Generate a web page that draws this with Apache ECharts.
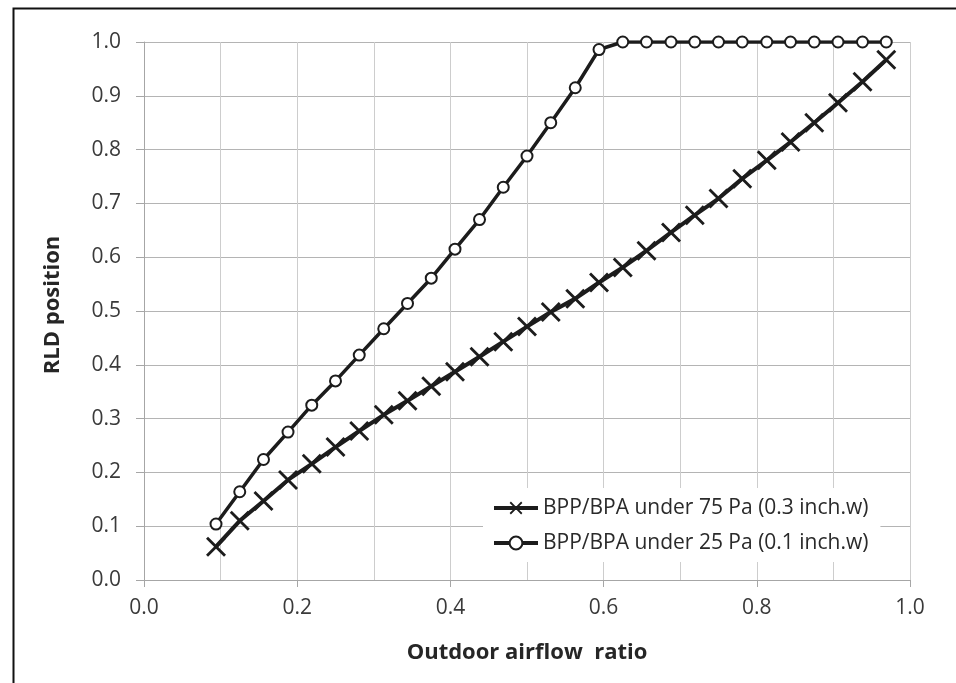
<!DOCTYPE html>
<html>
<head>
<meta charset="utf-8">
<script src="https://cdn.jsdelivr.net/npm/echarts@6/dist/echarts.min.js"></script>
<style>
  html, body { margin: 0; padding: 0; background: #fff; }
  #chart { width: 956px; height: 683px; }
</style>
</head>
<body>
<div id="chart"></div>
<script>
// Outdoor airflow ratio (x) shared by both damper curves
const airflowRatio = [0.094, 0.125, 0.156, 0.188, 0.219, 0.250, 0.281, 0.313, 0.344, 0.375,
  0.406, 0.438, 0.469, 0.500, 0.531, 0.563, 0.594, 0.625, 0.656, 0.688,
  0.719, 0.750, 0.781, 0.813, 0.844, 0.875, 0.906, 0.938, 0.969];

// RLD position at 75 Pa (0.3 inch.w)
const rld75Pa = [0.062, 0.110, 0.147, 0.186, 0.216, 0.247, 0.277, 0.307, 0.333, 0.360,
  0.387, 0.415, 0.443, 0.471, 0.498, 0.523, 0.553, 0.581, 0.612, 0.646,
  0.678, 0.709, 0.746, 0.780, 0.814, 0.850, 0.887, 0.926, 0.967];

// RLD position at 25 Pa (0.1 inch.w)
const rld25Pa = [0.104, 0.164, 0.224, 0.275, 0.325, 0.370, 0.418, 0.467, 0.514, 0.561,
  0.615, 0.670, 0.730, 0.788, 0.850, 0.915, 0.986, 1.000, 1.000, 1.000,
  1.000, 1.000, 1.000, 1.000, 1.000, 1.000, 1.000, 1.000, 1.000];

const seriesNames = ['BPP/BPA under 75 Pa (0.3 inch.w)', 'BPP/BPA under 25 Pa (0.1 inch.w)'];
const xAxisTitle = 'Outdoor airflow  ratio';
const yAxisTitle = 'RLD position';

const pairs = (xs, ys) => xs.map((x, i) => [x, ys[i]]);

// Thin "x" cross drawn as a filled outline
const crossSymbol = 'path://M0,2L2,0L10,8L18,0L20,2L12,10L20,18L18,20L10,12L2,20L0,18L8,10Z';

const FONT = '"Open Sans", Lato, sans-serif';
const INK = '#1c1c1c';
const LABEL_SIZE = 21;
const TITLE_SIZE = 22;

const chart = echarts.init(document.getElementById('chart'), null, { renderer: 'canvas' });

chart.setOption({
  animation: false,
  backgroundColor: '#fff',
  textStyle: { fontFamily: FONT },
  graphic: [{
    type: 'rect',
    left: 11, top: 6,
    shape: { x: 0, y: 0, width: 1000, height: 1000 },
    style: { fill: 'none', stroke: '#111', lineWidth: 2 },
    silent: true,
    z: 100
  }],
  grid: { left: 144, right: 46, top: 42, bottom: 103, containLabel: false },
  xAxis: {
    type: 'value',
    min: 0, max: 1, interval: 0.2,
    name: xAxisTitle,
    nameLocation: 'middle',
    nameGap: 62,
    nameTextStyle: { fontFamily: FONT, fontSize: TITLE_SIZE, fontWeight: 'bold', color: '#262626' },
    axisLine: { show: true, lineStyle: { color: '#a6a6a6', width: 1 } },
    axisTick: { show: true, length: 7, lineStyle: { color: '#a6a6a6' } },
    axisLabel: {
      margin: 18, fontSize: LABEL_SIZE, color: '#3a3a3a', fontFamily: FONT,
      formatter: v => v.toFixed(1)
    },
    splitLine: { show: true, lineStyle: { color: '#cdcdcd', width: 1 } },
    minorTick: { show: false, splitNumber: 2 },
    minorSplitLine: { show: true, lineStyle: { color: '#cdcdcd', width: 1 } }
  },
  yAxis: {
    type: 'value',
    min: 0, max: 1, interval: 0.1,
    name: yAxisTitle,
    nameLocation: 'middle',
    nameGap: 80,
    nameTextStyle: {
      fontFamily: FONT, fontSize: TITLE_SIZE, fontWeight: 'bold', color: '#262626',
      padding: [0, 0, 0, 12]
    },
    axisLine: { show: true, lineStyle: { color: '#a6a6a6', width: 1 } },
    axisTick: { show: true, length: 8, lineStyle: { color: '#a6a6a6' } },
    axisLabel: {
      margin: 23, fontSize: LABEL_SIZE, color: '#3a3a3a', fontFamily: FONT,
      formatter: v => v.toFixed(1)
    },
    splitLine: { show: true, lineStyle: { color: '#b4b4b4', width: 1 } }
  },
  legend: {
    orient: 'vertical',
    left: 483, top: 488,
    backgroundColor: '#fff',
    padding: [9, 12, 8, 9],
    itemWidth: 44, itemHeight: 16, itemGap: 13,
    lineStyle: { width: 4 },
    textStyle: { fontFamily: FONT, fontSize: LABEL_SIZE, color: '#2a2a2a', lineHeight: 22 },
    data: seriesNames
  },
  series: [
    {
      name: seriesNames[0],
      type: 'line',
      data: pairs(airflowRatio, rld75Pa),
      symbol: crossSymbol,
      symbolSize: 20,
      showAllSymbol: true,
      lineStyle: { color: INK, width: 4 },
      itemStyle: { color: INK },
      z: 3
    },
    {
      name: seriesNames[1],
      type: 'line',
      data: pairs(airflowRatio, rld25Pa),
      symbol: 'emptyCircle',
      symbolSize: 11,
      showAllSymbol: true,
      lineStyle: { color: INK, width: 3.5 },
      itemStyle: { color: INK, borderColor: INK, borderWidth: 2 },
      z: 4
    }
  ]
});
</script>
</body>
</html>
